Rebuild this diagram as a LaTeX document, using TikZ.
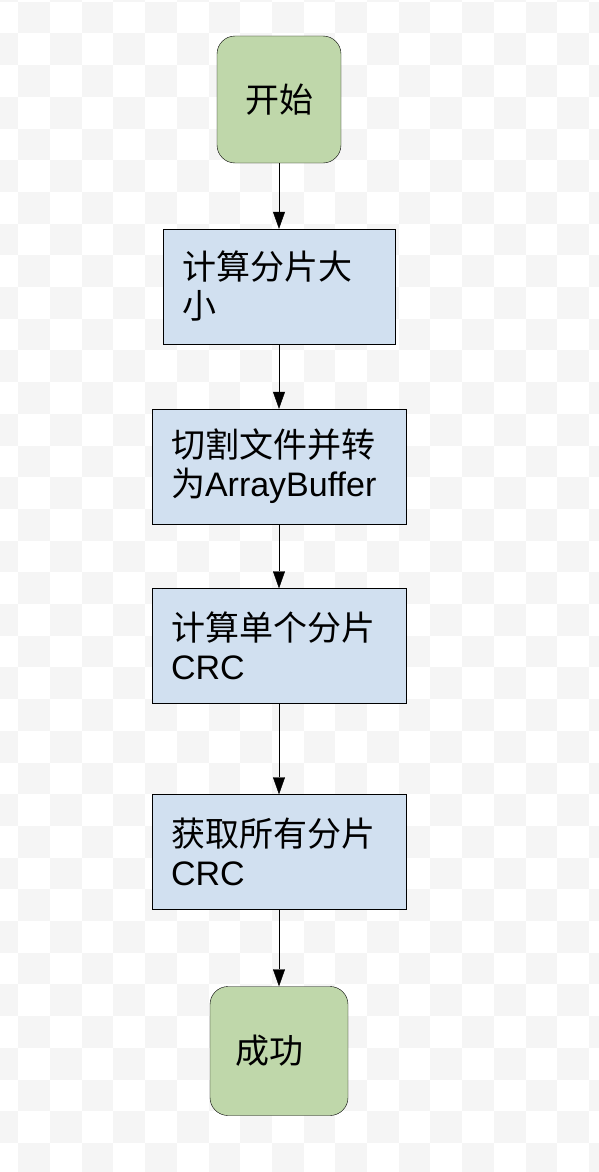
\documentclass[tikz,border=0pt]{standalone}
\usepackage{fontspec}
\setmainfont{Liberation Sans}
\newfontfamily\cjk{Noto Sans CJK SC}
\usetikzlibrary{arrows.meta}
\tikzset{>={Triangle[length=17pt,width=12pt]}, line width=1.8pt}
\definecolor{termgreen}{RGB}{191,215,170}
\definecolor{stepblue}{RGB}{209,224,240}
\definecolor{checkgray}{RGB}{245,245,245}
\tikzset{
  terminal/.style={draw, rounded corners=18pt, fill=termgreen,
    font=\fontsize{34}{40}\selectfont\cjk},
  stepbox/.style={draw, fill=stepblue, align=left, inner xsep=19pt,
    minimum height=115pt, font=\fontsize{34}{39}\selectfont},
}

\begin{document}
\begin{tikzpicture}[x=1pt,y=-1pt]
  \def\midx{279}
  \def\cell{31.7}
  \useasboundingbox (0,0) rectangle (598,1172);

  % checkered background
  \foreach \i in {0,...,19} {
    \foreach \j in {0,...,37} {
      \pgfmathtruncatemacro\chk{mod(\i+\j,2)}
      \ifnum\chk=0
        \fill[checkgray] (-13.4+\cell*\i,-30+\cell*\j) rectangle ++(\cell,\cell);
      \fi
    }
  }

  % start / end
  \node[terminal,minimum width=124pt,minimum height=127pt]
    (start) at (\midx,99.5) {开始};
  \node[terminal,minimum width=138pt,minimum height=129pt]
    (done) at (\midx,1051) {成功\hspace*{20pt}};

  % steps
  \node[stepbox,text width=194pt]
    (size) at (\midx,286.5) {{\cjk 计算分片大}\\{\cjk 小}};
  \node[stepbox,text width=216pt]
    (slice) at (\midx,466.5) {{\cjk 切割文件并转}\\{\cjk 为}ArrayBuffer};
  \node[stepbox,text width=216pt]
    (crc) at (\midx,646) {{\cjk 计算单个分片}\\CRC};
  \node[stepbox,text width=216pt]
    (allcrc) at (\midx,852) {{\cjk 获取所有分片}\\CRC};

  \draw[->] (start) -- (size);
  \draw[->] (size) -- (slice);
  \draw[->] (slice) -- (crc);
  \draw[->] (crc) -- (allcrc);
  \draw[->] (allcrc) -- (done);
\end{tikzpicture}
\end{document}
